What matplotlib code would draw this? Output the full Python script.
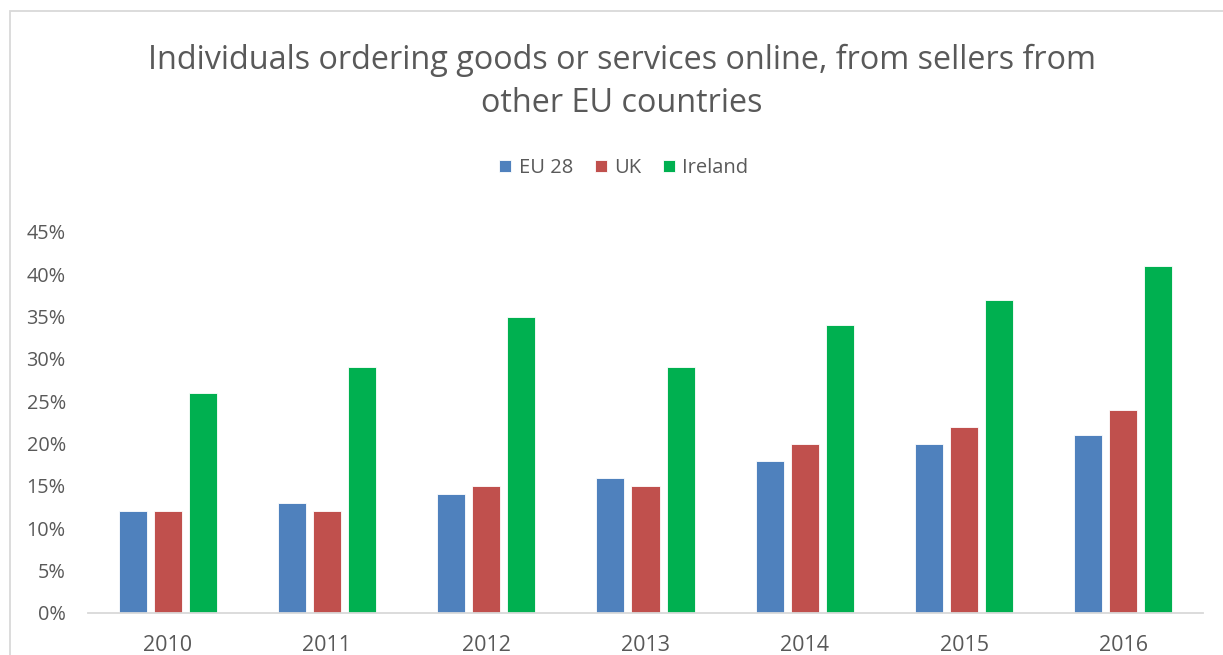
import matplotlib
matplotlib.use("Agg")
import matplotlib.pyplot as plt
import numpy as np
from matplotlib.patches import Rectangle
from matplotlib.ticker import FuncFormatter

# data
years = ["2010", "2011", "2012", "2013", "2014", "2015", "2016"]
eu28 = [0.12, 0.13, 0.14, 0.16, 0.18, 0.20, 0.21]
uk = [0.12, 0.12, 0.15, 0.15, 0.20, 0.22, 0.24]
ireland = [0.26, 0.29, 0.35, 0.29, 0.34, 0.37, 0.41]

series = [("EU 28", eu28, "#4F81BD"), ("UK", uk, "#C0504D"), ("Ireland", ireland, "#00B050")]

plt.rcParams['font.family'] = ['Open Sans', 'DejaVu Sans']
text_col = "#595959"

fig = plt.figure(figsize=(12.23, 6.55), dpi=100)
ax = fig.add_axes([88 / 1223, 1 - 613 / 655, (1203 - 88) / 1223, (613 - 232) / 655])

x = np.arange(len(years))
width = 0.176
step = 0.22
for i, (name, vals, col) in enumerate(series):
    ax.bar(x + (i - 1) * step, vals, width, color=col, edgecolor="white", linewidth=0.6, label=name)

ax.set_xlim(-0.5, len(years) - 0.5)
ax.set_ylim(0, 0.45)
ax.set_yticks(np.arange(0, 0.451, 0.05))
ax.yaxis.set_major_formatter(FuncFormatter(lambda v, p: f"{v * 100:.0f}%"))
ax.set_xticks(x)
ax.set_xticklabels(years)

for s in ["top", "right", "left"]:
    ax.spines[s].set_visible(False)
ax.spines["bottom"].set_color("#D9D9D9")
ax.spines["bottom"].set_linewidth(1.3)
ax.tick_params(axis="both", length=0, labelcolor=text_col)
ax.tick_params(axis="y", pad=16, labelsize=14.3)
ax.tick_params(axis="x", pad=16, labelsize=15.5)

fig.text(622 / 1223, 1 - 82 / 655, "Individuals ordering goods or services online, from sellers from\nother EU countries",
         ha="center", va="center", fontsize=23.3, color=text_col, linespacing=1.37)

fig.legend(loc="center", bbox_to_anchor=(624 / 1223, 1 - 168 / 655), ncol=3, frameon=False,
           fontsize=14.5, labelcolor=text_col, handlelength=0.6, handleheight=0.6,
           handletextpad=0.35, columnspacing=1.1)

# chart area border (cut off at right and bottom in the original)
fig.patches.append(Rectangle((10 / 1223, -0.1), 1.2, 1 - 11 / 655 + 0.1, transform=fig.transFigure,
                             fill=False, edgecolor="#D9D9D9", linewidth=1.3))

fig.savefig("out.png", dpi=100)
